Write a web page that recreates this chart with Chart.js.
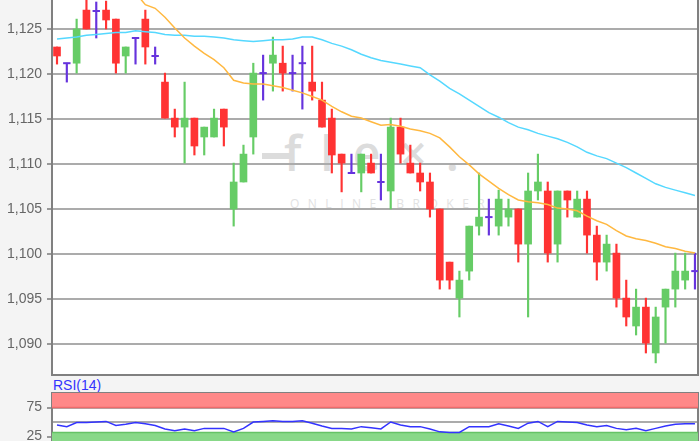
<!DOCTYPE html>
<html><head><meta charset="utf-8">
<script src="https://cdn.jsdelivr.net/npm/chart.js@4.4.1/dist/chart.umd.min.js"></script>
<style>
html,body{margin:0;padding:0;width:700px;height:441px;overflow:hidden;background:#f4f4f4;font-family:"Liberation Sans",Arial,sans-serif;}
#plotbg{position:absolute;left:52px;top:0;width:646px;height:375px;background:#fff;}
#rsibg{position:absolute;left:52px;top:393px;width:646px;height:48px;background:#fff;}
.wm{position:absolute;color:#dcdcdc;white-space:nowrap;font-family:"Open Sans",sans-serif;}
#wmbar{position:absolute;left:262px;top:153px;width:30px;height:6px;background:#dcdcdc;}
#c1{position:absolute;left:0;top:0;}
#c2{position:absolute;left:0;top:376px;}
#rsiLabel{position:absolute;left:53px;top:377px;font-size:14px;color:#3333ff;line-height:16px;}
</style></head>
<body>
<div id="plotbg"></div>
<div id="rsibg"></div>
<div id="wmbar"></div>
<div class="wm" style="left:284px;top:124px;font-size:48px;font-weight:600;line-height:58px;letter-spacing:19px;">fle×.</div>
<div class="wm" style="left:290px;top:197px;font-size:12px;letter-spacing:8.5px;line-height:14px;color:#e2e2e2;">ONLINE BROKER</div>
<canvas id="c1" width="700" height="376"></canvas>
<div id="rsiLabel">RSI(14)</div>
<canvas id="c2" width="700" height="76"></canvas>
<script>
// ---- data ----
const opens  = [1.1230,1.1212,1.1212,1.1271,1.1270,1.1271,1.1261,1.1220,1.1240,1.1261,1.1220,1.1191,1.1151,1.1141,1.1151,1.1130,1.1130,1.1161,1.1050,1.1080,1.1130,1.1201,1.1212,1.1212,1.1201,1.1212,1.1191,1.1171,1.1151,1.1111,1.1090,1.1090,1.1101,1.1080,1.1070,1.1141,1.1101,1.1090,1.1080,1.1050,1.0991,1.0951,1.0981,1.1031,1.1041,1.1031,1.1041,1.1050,1.1011,1.1070,1.1070,1.1011,1.1070,1.1041,1.1061,1.1021,1.0991,1.1001,1.0951,1.0920,1.0941,1.0890,1.0941,1.0961,1.0971,1.0981];
const highs  = [1.1230,1.1212,1.1261,1.1285,1.1280,1.1281,1.1261,1.1230,1.1240,1.1271,1.1230,1.1201,1.1161,1.1191,1.1151,1.1141,1.1161,1.1161,1.1101,1.1121,1.1212,1.1221,1.1241,1.1231,1.1221,1.1231,1.1231,1.1191,1.1161,1.1111,1.1111,1.1111,1.1111,1.1111,1.1151,1.1151,1.1121,1.1101,1.1090,1.1050,1.0991,1.0981,1.1031,1.1090,1.1061,1.1071,1.1061,1.1050,1.1090,1.1111,1.1080,1.1070,1.1070,1.1070,1.1070,1.1031,1.1021,1.1011,1.0971,1.0961,1.0951,1.0941,1.0961,1.1001,1.1001,1.1001];
const lows   = [1.1211,1.1191,1.1201,1.1250,1.1240,1.1250,1.1201,1.1201,1.1211,1.1211,1.1211,1.1151,1.1130,1.1101,1.1110,1.1110,1.1130,1.1120,1.1031,1.1080,1.1111,1.1171,1.1181,1.1181,1.1181,1.1161,1.1171,1.1141,1.1090,1.1069,1.1090,1.1069,1.1090,1.1060,1.1050,1.1101,1.1090,1.1070,1.1041,1.0961,1.0961,1.0930,1.0971,1.1021,1.1021,1.1021,1.1031,1.0991,1.0930,1.1060,1.0991,1.0991,1.1041,1.1041,1.1001,1.0971,1.0981,1.0941,1.0920,1.0910,1.0890,1.0879,1.0901,1.0941,1.0961,1.0961];
const closes = [1.1220,1.1212,1.1250,1.1250,1.1270,1.1260,1.1212,1.1230,1.1240,1.1230,1.1220,1.1151,1.1141,1.1151,1.1120,1.1141,1.1151,1.1141,1.1080,1.1111,1.1201,1.1201,1.1221,1.1201,1.1201,1.1212,1.1181,1.1141,1.1110,1.1101,1.1090,1.1111,1.1090,1.1080,1.1141,1.1111,1.1090,1.1080,1.1050,1.0971,1.0971,1.0971,1.1031,1.1041,1.1041,1.1061,1.1050,1.1011,1.1070,1.1080,1.1001,1.1070,1.1060,1.1061,1.1021,1.0991,1.1011,1.0951,1.0930,1.0941,1.0901,1.0930,1.0961,1.0981,1.0981,1.0981];
const maShort = [null,null,null,null,null,null,null,null,1.1290,1.1277,1.1273,1.1263,1.1251,1.1240,1.1231,1.1223,1.1216,1.1207,1.1193,1.1190,1.1189,1.1189,1.1187,1.1185,1.1182,1.1179,1.1175,1.1171,1.1164,1.1158,1.1153,1.1151,1.1147,1.1143,1.1144,1.1142,1.1139,1.1137,1.1134,1.1129,1.1119,1.1108,1.1099,1.1089,1.1081,1.1073,1.1066,1.1060,1.1058,1.1057,1.1055,1.1051,1.1050,1.1048,1.1042,1.1037,1.1033,1.1026,1.1020,1.1017,1.1015,1.1012,1.1008,1.1006,1.1003,1.1001];
const maLong = [1.1239,1.1240,1.1241,1.1243,1.1244,1.1245,1.1246,1.1246,1.1248,1.1247,1.1246,1.1244,1.1243,1.1243,1.1242,1.1242,1.1241,1.1240,1.1238,1.1237,1.1236,1.1237,1.1238,1.1238,1.1239,1.1241,1.1241,1.1238,1.1234,1.1231,1.1227,1.1222,1.1218,1.1215,1.1213,1.1211,1.1209,1.1207,1.1199,1.1192,1.1184,1.1178,1.1171,1.1164,1.1157,1.1152,1.1146,1.1141,1.1138,1.1134,1.1131,1.1128,1.1124,1.1119,1.1113,1.1109,1.1106,1.1101,1.1096,1.1090,1.1084,1.1078,1.1074,1.1071,1.1068,1.1065];
const rsi = [45,42,49,49,50,51,44,46,49,47,44,38,35,38,35,39,39,39,33,39,50,51,52,51,51,52,48,43,39,39,38,42,40,38,50,45,42,42,38,33,32,32,42,42,42,47,43,39,48,51,42,51,50,49,45,42,44,39,36.5,39,35,39,43,46,47,47];
const priceTicks = [1.090,1.095,1.100,1.105,1.110,1.115,1.120,1.125];
const rsiTicks = [25,50,75];
const rsiLabelled = [25,75];
const overbought = 75, oversold = 32;

const candleIdx = opens.map((_, i) => i);
const X_MIN = -0.51, X_MAX = 65.31;
const UP = '#66cc66', DOWN = '#ff3333', DOJI = '#6633dd';
const col = i => closes[i] > opens[i] ? UP : (closes[i] < opens[i] ? DOWN : DOJI);

const wicks = candleIdx.map(i => ({x: i, y: [lows[i], highs[i]]}));
const bodies = candleIdx.filter(i => opens[i] !== closes[i]).map(i => ({x: i, y: [Math.min(opens[i], closes[i]), Math.max(opens[i], closes[i])]}));
const bodyColors = candleIdx.filter(i => opens[i] !== closes[i]).map(col);
const dojis = candleIdx.filter(i => opens[i] === closes[i]).map(i => ({x: i, y: opens[i]}));

const tickFont = {family: '"Liberation Sans", Arial, sans-serif', size: 14};

new Chart(document.getElementById('c1'), {
  type: 'bar',
  data: {
    datasets: [
      {type: 'line', data: candleIdx.map(i => ({x: i, y: maShort[i]})), borderColor: '#ffb840', borderWidth: 1.5, pointRadius: 0, tension: 0, order: 0},
      {type: 'line', data: candleIdx.map(i => ({x: i, y: maLong[i]})), borderColor: '#55d8ff', borderWidth: 1.5, pointRadius: 0, tension: 0, order: 0},
      {type: 'bar', data: wicks, backgroundColor: candleIdx.map(col), barThickness: 1.5, grouped: false, order: 3},
      {type: 'bar', data: bodies, backgroundColor: bodyColors, barThickness: 7, grouped: false, order: 2},
      {type: 'line', data: dojis, showLine: false, pointStyle: 'line', pointRadius: 3.7, pointBorderWidth: 2, pointBorderColor: DOJI, pointBackgroundColor: DOJI, order: 1}
    ]
  },
  options: {
    responsive: false, animation: false, events: [],
    layout: {autoPadding: false, padding: {top: 0, left: 0, right: 2, bottom: 1}},
    plugins: {legend: {display: false}, tooltip: {enabled: false}},
    scales: {
      x: {type: 'linear', min: X_MIN, max: X_MAX, offset: false,
          ticks: {display: false}, grid: {display: false, drawTicks: false, offset: false},
          border: {color: '#808080', width: 2}},
      y: {type: 'linear', min: 1.086556, max: 1.128222,
          afterFit(s) { s.width = 52; s.paddingTop = 0; s.paddingBottom = 0; },
          afterBuildTicks(s) { s.ticks = priceTicks.map(v => ({value: v})); },
          ticks: {callback: v => v.toFixed(3).replace('.', ','), color: '#666', font: tickFont, padding: 5},
          grid: {color: '#ababab', lineWidth: 2, tickLength: 5, tickColor: '#999'},
          border: {color: '#808080', width: 2}},
      yr: {type: 'linear', position: 'right', display: true,
          afterFit(s) { s.width = 0; s.paddingTop = 0; s.paddingBottom = 0; },
          ticks: {display: false}, grid: {display: false, drawTicks: false},
          border: {color: '#808080', width: 2}}
    }
  }
});

new Chart(document.getElementById('c2'), {
  type: 'line',
  data: {
    datasets: [
      {data: candleIdx.map(i => ({x: i, y: rsi[i]})), borderColor: '#3333ff', borderWidth: 1.5, pointRadius: 0, tension: 0, order: 0},
      {data: [{x: X_MIN, y: overbought}, {x: X_MAX, y: overbought}], borderColor: '#ee6b6b', borderWidth: 1.5, backgroundColor: '#ff8888', fill: {value: 100}, pointRadius: 0, order: 2},
      {data: [{x: X_MIN, y: oversold}, {x: X_MAX, y: oversold}], borderColor: '#66c266', borderWidth: 1.5, backgroundColor: '#88d888', fill: 'origin', pointRadius: 0, order: 2}
    ]
  },
  options: {
    responsive: false, animation: false, events: [],
    layout: {autoPadding: false, padding: {top: 17, left: 0, right: 2, bottom: 1}},
    plugins: {legend: {display: false}, tooltip: {enabled: false}},
    scales: {
      x: {type: 'linear', min: X_MIN, max: X_MAX, offset: false,
          ticks: {display: false}, grid: {display: false, drawTicks: false}, border: {display: false}},
      xt: {type: 'linear', axis: 'x', position: 'top', min: X_MIN, max: X_MAX,
          afterFit(s) { s.height = 0; },
          ticks: {display: false}, grid: {display: false, drawTicks: false}, border: {color: '#808080', width: 2}},
      y: {type: 'linear', min: 0, max: 100,
          afterFit(s) { s.width = 52; s.paddingTop = 0; s.paddingBottom = 0; },
          afterBuildTicks(s) { s.ticks = rsiTicks.map(v => ({value: v})); },
          ticks: {callback: v => rsiLabelled.includes(v) ? String(v) : '', color: '#666', font: tickFont, padding: 5},
          grid: {color: '#ababab', lineWidth: 2, tickLength: 5,
                 tickColor: c => rsiLabelled.includes(c.tick && c.tick.value) ? '#999' : 'rgba(0,0,0,0)'},
          border: {color: '#808080', width: 2}},
      yr: {type: 'linear', position: 'right', display: true,
          afterFit(s) { s.width = 0; s.paddingTop = 0; s.paddingBottom = 0; },
          ticks: {display: false}, grid: {display: false, drawTicks: false},
          border: {color: '#808080', width: 2}}
    }
  }
});
</script>
</body></html>
